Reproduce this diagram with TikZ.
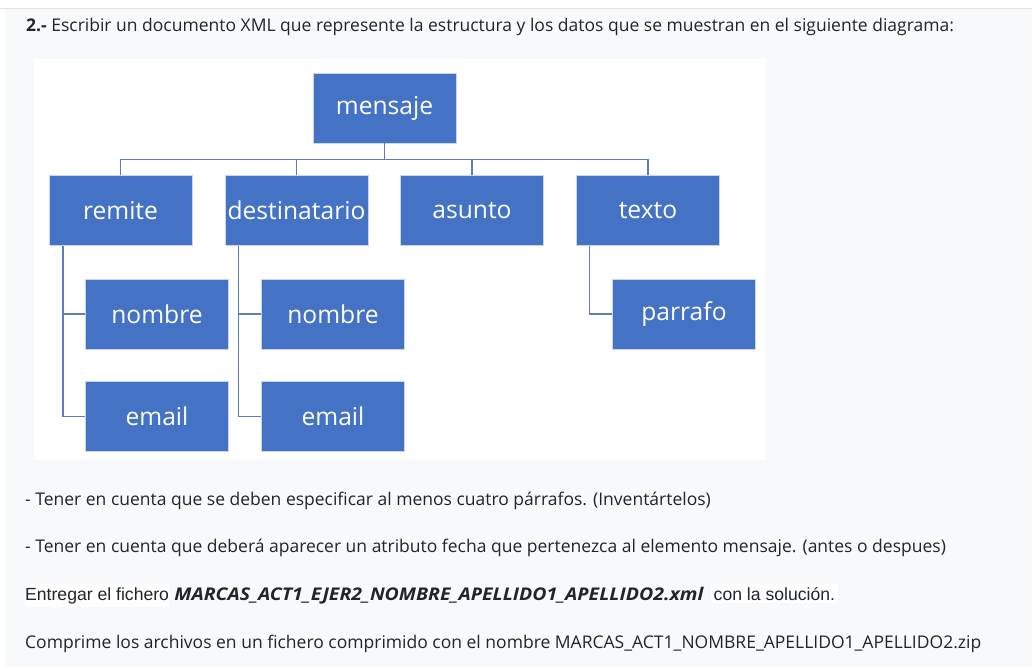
\documentclass[tikz,border=0pt]{standalone}
\usepackage{fontspec}
\setmainfont{Open Sans}
\newfontfamily\arialfont{Liberation Sans}
\definecolor{pagebg}{HTML}{F8F9FA}
\definecolor{rulegray}{HTML}{DEE2E6}
\definecolor{boxblue}{HTML}{4472C4}
\definecolor{linkblue}{HTML}{5A7EC2}
\definecolor{txt}{HTML}{212529}
\begin{document}
\begin{tikzpicture}[x=1pt,y=-1pt,
  elem/.style={rectangle,fill=boxblue,draw=white!70!boxblue,line width=0.6pt,
    minimum width=143pt,minimum height=70pt,inner sep=0pt,text=white,
    font=\fontsize{24.6}{28}\selectfont},
  link/.style={draw=linkblue,line width=1.4pt},
  para/.style={anchor=base west,inner sep=0pt,text=txt,font=\fontsize{17.5}{21}\selectfont}]
\useasboundingbox (0,0) rectangle (1032,667);
% backgrounds
\fill[white] (0,0) rectangle (1032,667);
\fill[pagebg] (5,9) rectangle (1032,667);
\draw[rulegray,line width=1pt] (0,8.5) -- (1032,8.5);
\fill[white] (34,59) rectangle (765,460);
% title
\node[para] (title) at (26,31) {\textbf{2.-} Escribir un documento XML que represente la estructura y los datos que se muestran en el siguiente diagrama:};
% boxes
\node[elem] (mensaje) at (384.5,108) {mensaje};
\node[elem] (remite) at (120.5,210.5) {remite};
\node[elem] (dest) at (296.5,210.5) {destinatario};
\node[elem] (asunto) at (472,210.5) {asunto};
\node[elem] (texto) at (648,210.5) {texto};
\node[elem] (rnombre) at (157,314) {nombre};
\node[elem] (remail) at (157,416.5) {email};
\node[elem] (dnombre) at (333,314) {nombre};
\node[elem] (demail) at (333,416.5) {email};
\node[elem] (parrafo) at (684,314) {parrafo};
% connectors
\coordinate (bus) at (0,159.5);
\draw[link] (mensaje.south) -- (mensaje.south |- bus);
\draw[link] (remite.north) -- (remite.north |- bus) -- (texto.north |- bus) -- (texto.north);
\draw[link] (dest.north) -- (dest.north |- bus);
\draw[link] (asunto.north) -- (asunto.north |- bus);
\coordinate (rx) at (63,0);
\coordinate (dx) at (238.5,0);
\coordinate (tx) at (589.5,0);
\draw[link] (rx |- remite.south) -- (rx |- remail.west) -- (remail.west);
\draw[link] (rx |- rnombre.west) -- (rnombre.west);
\draw[link] (dx |- dest.south) -- (dx |- demail.west) -- (demail.west);
\draw[link] (dx |- dnombre.west) -- (dnombre.west);
\draw[link] (tx |- texto.south) -- (tx |- parrafo.west) -- (parrafo.west);
% instructions
\node[para] (l1) at (25,505) {- Tener en cuenta que se deben especificar al menos cuatro párrafos. (Inventártelos)};
\node[para] (l2) at (25,552.5) {- Tener en cuenta que deberá aparecer un atributo fecha que pertenezca al elemento mensaje. (antes o despues)};
\node[para,fill=white,inner xsep=0pt,inner ysep=3pt,font=\arialfont\fontsize{17.6}{21}\selectfont] (e1) at (25,600) {Entregar el fichero};
\node[para,font=\fontsize{17.5}{21}\selectfont\bfseries\itshape] (e2) at ([xshift=5pt]e1.base east) {\scalebox{1.115}[1]{MARCAS\_ACT1\_EJER2\_NOMBRE\_APELLIDO1\_APELLIDO2.xml}};
\node[para,fill=white,inner xsep=3pt,inner ysep=3pt,font=\arialfont\fontsize{17.6}{21}\selectfont] (e3) at ([xshift=7pt]e2.base east) {con la solución.};
\node[para] (l4) at (25,648) {Comprime los archivos en un fichero comprimido con el nombre MARCAS\_ACT1\_NOMBRE\_APELLIDO1\_APELLIDO2.zip};
\end{tikzpicture}
\end{document}
